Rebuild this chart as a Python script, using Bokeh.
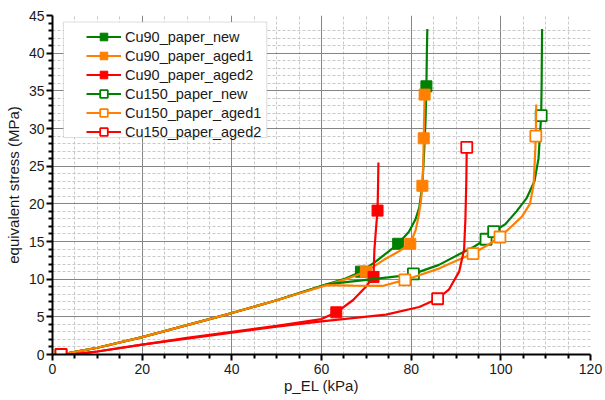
from bokeh.plotting import figure
from bokeh.models import FixedTicker, Range1d, Legend, LegendItem, BoxAnnotation
from bokeh.embed import file_html
from bokeh.resources import INLINE

# ---------------- data ----------------
names = ["Cu90_paper_new", "Cu90_paper_aged1", "Cu90_paper_aged2",
         "Cu150_paper_new", "Cu150_paper_aged1", "Cu150_paper_aged2"]
colors = ["#008000", "#ff8000", "#ff0000", "#008000", "#ff8000", "#ff0000"]
filled = [True, True, True, False, False, False]

# line points (p_EL kPa, equivalent stress MPa)
cu90_new_x = [1.9, 5, 10, 20, 30, 40, 50, 61, 65, 68.8, 72, 75, 77.1, 79.5, 81, 81.8, 82.5, 82.9, 83.2, 83.4, 83.5, 83.6]
cu90_new_y = [0.0, 0.35, 0.9, 2.3, 3.9, 5.5, 7.2, 9.3, 10.0, 11.0, 12.3, 13.7, 14.7, 16.3, 18.0, 19.5, 22.5, 27.0, 31.0, 35.6, 40.0, 43.2]
cu90_aged1_x = [1.9, 5, 10, 20, 30, 40, 50, 61, 65, 69.9, 74, 77, 79.8, 81, 81.7, 82.2, 82.5, 82.7, 82.8, 82.9, 83.0]
cu90_aged1_y = [0.0, 0.35, 0.9, 2.3, 3.9, 5.5, 7.2, 9.2, 9.9, 11.0, 12.6, 13.6, 14.7, 16.5, 18.5, 20.5, 22.4, 25.5, 28.7, 31.5, 34.5]
cu90_aged2_x = [1.9, 5, 10, 20, 30, 40, 50, 60, 63.3, 67, 69.9, 71.6, 71.8, 72.2, 72.5, 72.6, 72.7]
cu90_aged2_y = [0.0, 0.05, 0.4, 1.3, 2.2, 3.0, 3.8, 4.7, 5.6, 7.2, 9.0, 10.3, 13.9, 17.0, 19.1, 22.0, 25.5]
cu150_new_x = [1.9, 5, 10, 20, 30, 40, 50, 61, 70, 77.3, 80.5, 86.2, 90.7, 94, 96.7, 98.4, 101, 103.5, 105.8, 107.5, 108.4, 109.0, 109.1, 109.2]
cu150_new_y = [0.0, 0.35, 0.9, 2.3, 3.9, 5.5, 7.2, 9.3, 9.9, 10.4, 10.7, 11.9, 13.3, 14.3, 15.3, 16.3, 17.3, 19.0, 20.8, 23.0, 26.0, 31.7, 36.0, 43.2]
cu150_aged1_x = [1.9, 5, 10, 20, 30, 40, 50, 61, 67, 73.6, 78.6, 86.2, 90.7, 93.8, 97, 99.8, 102, 104.7, 106.5, 107.3, 107.6, 107.8, 107.9]
cu150_aged1_y = [0.0, 0.35, 0.9, 2.3, 3.9, 5.5, 7.2, 9.2, 9.15, 9.1, 9.9, 11.4, 12.6, 13.4, 14.5, 15.6, 16.8, 18.3, 20.0, 22.5, 26.0, 29.0, 33.2]
cu150_aged2_x = [1.9, 5, 10, 20, 30, 40, 50, 60, 74.4, 81.8, 85.9, 88.4, 90.7, 91.8, 92.1, 92.3, 92.4]
cu150_aged2_y = [0.0, 0.05, 0.4, 1.3, 2.1, 2.9, 3.7, 4.4, 5.3, 6.3, 7.4, 8.6, 11.0, 13.9, 18.0, 23.0, 27.5]

# marker points
cu90_new_mx = [1.9, 68.8, 77.1, 83.4]
cu90_new_my = [0.0, 11.0, 14.7, 35.6]
cu90_aged1_mx = [1.9, 69.9, 79.8, 82.5, 82.8, 83.0]
cu90_aged1_my = [0.0, 11.0, 14.7, 22.4, 28.7, 34.5]
cu90_aged2_mx = [1.9, 63.3, 71.6, 72.5]
cu90_aged2_my = [0.0, 5.6, 10.3, 19.1]
cu150_new_mx = [1.9, 80.5, 96.7, 98.4, 109.0]
cu150_new_my = [0.0, 10.7, 15.3, 16.3, 31.7]
cu150_aged1_mx = [1.9, 78.6, 93.8, 99.8, 107.8]
cu150_aged1_my = [0.0, 9.9, 13.4, 15.6, 29.0]
cu150_aged2_mx = [1.9, 85.9, 92.4]
cu150_aged2_my = [0.0, 7.4, 27.5]

x_major = [0, 20, 40, 60, 80, 100, 120]
y_major = [0, 5, 10, 15, 20, 25, 30, 35, 40, 45]

lines = [(cu90_new_x, cu90_new_y), (cu90_aged1_x, cu90_aged1_y), (cu90_aged2_x, cu90_aged2_y),
         (cu150_new_x, cu150_new_y), (cu150_aged1_x, cu150_aged1_y), (cu150_aged2_x, cu150_aged2_y)]
marks = [(cu90_new_mx, cu90_new_my), (cu90_aged1_mx, cu90_aged1_my), (cu90_aged2_mx, cu90_aged2_my),
         (cu150_new_mx, cu150_new_my), (cu150_aged1_mx, cu150_aged1_my), (cu150_aged2_mx, cu150_aged2_my)]

FONT = "Liberation Sans"

p = figure(width=605, height=400, x_range=Range1d(0, 120), y_range=Range1d(0, 45),
           output_backend="svg", toolbar_location=None,
           min_border_left=52, min_border_right=15, min_border_top=15, min_border_bottom=46)
p.outline_line_color = None
p.background_fill_color = "white"

x_minor = [v for v in range(0, 121, 5) if v % 20]
y_minor = [v for v in range(0, 46) if v % 5]
p.xaxis.ticker = FixedTicker(ticks=x_major, minor_ticks=x_minor)
p.yaxis.ticker = FixedTicker(ticks=y_major, minor_ticks=y_minor)
p.xgrid.ticker = FixedTicker(ticks=x_major[1:-1], minor_ticks=x_minor)
p.ygrid.ticker = FixedTicker(ticks=y_major[1:-1], minor_ticks=y_minor[:-1])

for g in (p.xgrid, p.ygrid):
    g.grid_line_color = "#858585"
    g.grid_line_width = 1
    g.minor_grid_line_color = "#c8c8c8"
    g.minor_grid_line_dash = "3 2"
    g.minor_grid_line_width = 1

for ax in (p.xaxis, p.yaxis):
    ax.axis_line_color = "black"
    ax.axis_line_width = 2
    ax.major_tick_line_width = 2
    ax.minor_tick_line_width = 2
    ax.major_tick_out = 6
    ax.major_tick_in = 0
    ax.minor_tick_out = 4
    ax.minor_tick_in = 0
    ax.major_label_text_font = FONT
    ax.major_label_text_font_size = "14px"
    ax.major_label_text_color = "#1a1a1a"
    ax.axis_label_text_font = FONT
    ax.axis_label_text_font_size = "15px"
    ax.axis_label_text_font_style = "normal"
    ax.axis_label_text_color = "#1a1a1a"

p.xaxis.axis_label = "p_EL (kPa)"
p.yaxis.axis_label = "equivalent stress (MPa)"
p.xaxis.major_label_standoff = 3
p.xaxis.axis_label_standoff = 0
p.yaxis.major_label_standoff = 2
p.yaxis.axis_label_standoff = 4

items = []
for (lx, ly), (mx, my), name, c, f in zip(lines, marks, names, colors, filled):
    lr = p.line(lx, ly, line_color=c, line_width=2.2)
    if f:
        mr = p.scatter(mx, my, marker="square", size=11, fill_color=c, line_color=c, line_width=1)
    else:
        mr = p.scatter(mx, my, marker="square", size=11, fill_color="white", line_color=c, line_width=1.8)
    items.append(LegendItem(label=name, renderers=[lr, mr]))

box = BoxAnnotation(left=2.44, right=47.8, top=44.13, bottom=28.8,
                    fill_color="white", fill_alpha=1.0, line_color="#8a8a8a", line_width=1)
p.add_layout(box)

legend = Legend(items=items, location=(34, 213), padding=2, spacing=0,
                glyph_height=19, glyph_width=35, label_height=19, label_standoff=4,
                label_text_font=FONT, label_text_font_size="14.5px", label_text_color="#1a1a1a",
                border_line_color=None, background_fill_alpha=0.0, margin=0)
p.add_layout(legend)

open("out.html", "w").write(file_html(p, INLINE))
